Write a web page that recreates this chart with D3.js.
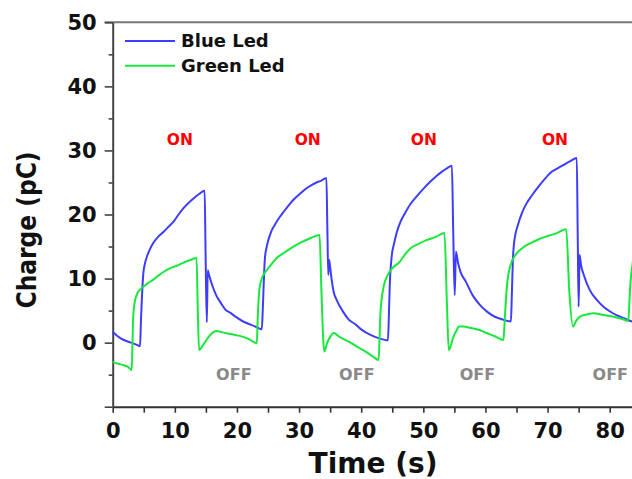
<!DOCTYPE html>
<html>
<head>
<meta charset="utf-8">
<script src="https://cdn.jsdelivr.net/npm/d3@7"></script>
<style>
  html, body { margin: 0; padding: 0; background: #fff; }
  svg { display: block; font-family: 'DejaVu Sans', Verdana, sans-serif; }
</style>
</head>
<body>
<svg id="chart" width="632" height="479"></svg>
<script>
// ── Data ──────────────────────────────────────────────────────────────────
const blueLed = [
  [0, 1.7], [0.8, 1.0], [1.7, 0.45], [2.8, 0.05], [3.9, -0.35], [4.4, -0.55],
  [4.55, 3.5], [4.7, 7.0], [4.93, 10.8], [5.2, 12.4], [5.5, 13.4], [6.0, 14.6], [6.5, 15.5],
  [7.3, 16.5], [8.2, 17.3], [9.0, 18.1], [9.8, 18.9], [10.6, 20.0], [11.4, 21.0], [12.2, 21.8],
  [13.0, 22.5], [13.9, 23.2], [14.8, 23.7],
  [14.95, 14.0], [15.15, 3.2], [15.3, 11.3], [15.5, 10.6], [15.9, 9.3], [16.7, 7.3], [17.4, 6.2],
  [18.1, 5.2], [19.0, 4.6], [19.7, 4.1], [21.0, 3.3], [22.2, 2.8], [23.2, 2.4], [24.0, 2.1],
  [24.15, 5.0], [24.3, 9.0], [24.5, 13.2], [24.8, 15.0], [25.05, 16.0], [25.5, 17.3], [26.1, 18.4],
  [26.8, 19.5], [27.5, 20.4], [28.3, 21.4], [29.1, 22.3], [30.1, 23.2], [31.2, 24.1], [32.0, 24.6],
  [32.8, 25.0], [33.6, 25.3], [34.4, 25.7],
  [34.55, 18.0], [34.7, 10.6], [34.85, 12.9], [35.0, 11.8], [35.25, 9.8], [35.6, 7.8], [36.06, 6.65],
  [37.1, 4.8], [38.0, 3.6], [39.0, 2.9], [40.1, 2.0], [41.5, 1.2], [42.8, 0.7], [44.3, 0.35],
  [44.45, 4.0], [44.6, 9.0], [44.9, 13.4], [45.3, 15.5], [45.7, 17.1], [46.3, 18.8], [47.05, 20.2],
  [47.9, 21.6], [48.9, 22.8], [50.0, 24.0], [51.1, 25.1], [52.0, 25.9], [53.0, 26.7], [53.8, 27.2],
  [54.6, 27.6],
  [54.8, 18.0], [55.05, 7.4], [55.25, 14.2], [55.6, 12.4], [56.0, 11.0], [56.8, 9.6], [58.0, 7.3],
  [59.1, 5.9], [60.3, 4.8], [61.6, 4.0], [62.8, 3.6], [64.1, 3.3],
  [64.25, 7.5], [64.4, 12.5], [64.6, 15.5], [65.3, 18.6], [65.9, 20.3], [66.6, 21.7], [67.5, 23.0],
  [68.5, 24.3], [69.6, 25.6], [70.7, 26.7], [71.6, 27.2], [72.5, 27.7], [73.6, 28.3], [74.7, 28.8],
  [74.85, 17.0], [75.0, 5.6], [75.15, 13.7], [75.4, 12.0], [75.75, 10.8], [76.8, 8.2], [77.9, 6.7],
  [79.0, 5.6], [80.0, 4.9], [81.1, 4.3], [82.3, 3.8], [83.6, 3.3], [84, 3.2]
];

const greenLed = [
  [0, -3.0], [0.9, -3.3], [1.7, -3.5], [2.5, -3.8], [3.06, -4.3],
  [3.2, 0.5], [3.3, 4.0], [3.6, 6.6], [4.1, 7.9], [4.9, 8.7], [5.7, 9.3], [6.5, 9.8], [7.4, 10.5],
  [8.3, 11.1], [9.2, 11.6], [10.3, 12.0], [11.4, 12.5], [12.5, 12.9], [13.5, 13.2],
  [13.7, 5.0], [13.9, -1.15], [14.6, -0.3], [15.2, 0.6], [15.7, 1.2], [16.7, 1.8], [17.7, 1.6],
  [18.7, 1.4], [19.7, 1.2], [21.0, 0.9], [22.0, 0.5], [22.6, 0.15], [23.2, -0.1],
  [23.35, 4.0], [23.6, 8.2], [24.0, 10.0], [24.8, 11.3], [25.6, 12.3], [26.4, 13.2], [27.7, 14.1],
  [29.1, 15.0], [30.4, 15.7], [31.8, 16.3], [33.3, 16.8],
  [33.6, 8.0], [34.06, -1.4], [34.5, -0.1], [35.0, 0.9], [35.6, 1.5], [36.5, 0.9], [37.5, 0.4],
  [38.5, -0.1], [39.6, -0.8], [40.7, -1.4], [41.8, -2.1], [42.8, -2.7],
  [42.95, 0.5], [43.1, 4.6], [43.6, 8.7], [44.4, 10.8], [45.2, 11.8], [46.2, 12.6], [47.0, 13.7],
  [47.9, 14.7], [49.2, 15.4], [50.5, 16.0], [52.0, 16.5], [53.4, 17.1],
  [53.8, 6.0], [54.1, -1.2], [54.8, 0.8], [55.4, 2.0], [55.7, 2.5], [56.4, 2.5], [57.6, 2.3],
  [58.9, 2.0], [60.2, 1.5], [61.5, 1.0], [62.9, 0.4],
  [63.1, 3.5], [63.4, 8.2], [63.95, 11.85], [65.0, 13.9], [66.0, 14.8], [67.2, 15.5], [68.5, 16.1],
  [69.9, 16.6], [71.5, 17.1], [73.0, 17.7],
  [73.5, 8.0], [74.1, 2.5], [74.6, 3.4], [75.2, 4.05], [76.3, 4.4], [77.4, 4.6], [79.0, 4.3],
  [80.6, 4.05], [82.0, 3.7], [83.0, 3.4],
  [83.2, 7.0], [83.4, 10.0], [83.7, 12.4], [84, 14.0]
];

const seriesNames = ['Blue Led', 'Green Led'];
const seriesColors = ['#3d3dff', '#18e83c'];
const xTickLabels = [0, 10, 20, 30, 40, 50, 60, 70, 80];
const yTickLabels = [0, 10, 20, 30, 40, 50];
const onLabelX = [10.8, 31.4, 50.1, 71.2];
const offLabelX = [19.5, 39.3, 58.7, 80.1];

(function () {
  'use strict';

  const svg = d3.select('#chart');
  const left = 112.7, top = 22.3, bottom = 406.7;

  const x = d3.scaleLinear().domain([0, 84]).range([left, left + 84 * 6.2125]);
  const y = d3.scaleLinear().domain([-10, 50]).range([bottom, top]);

  // ── Top frame line ────────────────────────────────────────────────────────
  svg.append('line')
    .attr('x1', left - 8).attr('x2', 632)
    .attr('y1', y(50)).attr('y2', y(50))
    .attr('stroke', '#777').attr('stroke-width', 2);

  // ── Axes ──────────────────────────────────────────────────────────────────
  const xAxis = svg.append('g')
    .attr('transform', `translate(0,${bottom})`)
    .call(d3.axisBottom(x)
      .tickValues(d3.range(0, 85, 5))
      .tickFormat(d => xTickLabels.includes(d) ? d : '')
      .tickSize(6).tickSizeOuter(0).tickPadding(10));
  xAxis.select('.domain').attr('stroke', '#333').attr('stroke-width', 2);
  xAxis.selectAll('.tick line').attr('stroke', '#333').attr('stroke-width', 1.6);

  const yAxis = svg.append('g')
    .attr('transform', `translate(${left},0)`)
    .call(d3.axisLeft(y)
      .tickValues(d3.range(-10, 51, 5))
      .tickFormat(d => yTickLabels.includes(d) ? d : '')
      .tickSize(8).tickSizeOuter(0).tickPadding(8));
  yAxis.select('.domain').attr('stroke', '#444').attr('stroke-width', 2);
  yAxis.selectAll('.tick line')
    .attr('stroke', '#444').attr('stroke-width', 1.6)
    .attr('x2', d => d % 10 === 0 ? -8 : -4);

  svg.selectAll('.tick text')
    .attr('font-family', "'DejaVu Sans', Verdana, sans-serif")
    .attr('font-size', 21).attr('font-weight', 'bold').attr('fill', '#111');

  // axis titles
  svg.append('text')
    .attr('x', 373).attr('y', 473)
    .attr('text-anchor', 'middle')
    .attr('font-size', 28).attr('font-weight', 'bold').attr('fill', '#111')
    .text('Time (s)');

  svg.append('text')
    .attr('transform', 'translate(36,230) rotate(-90)')
    .attr('text-anchor', 'middle')
    .attr('font-size', 27).attr('font-weight', 'bold').attr('fill', '#111')
    .attr('textLength', 157).attr('lengthAdjust', 'spacingAndGlyphs')
    .text('Charge (pC)');

  // ── Lines ─────────────────────────────────────────────────────────────────
  const line = d3.line()
    .x(d => x(d[0]))
    .y(d => y(d[1]))
    .curve(d3.curveMonotoneX);
  [blueLed, greenLed].forEach((s, i) => {
    svg.append('path')
      .datum(s)
      .attr('d', line)
      .attr('fill', 'none')
      .attr('stroke', seriesColors[i])
      .attr('stroke-width', 2)
      .attr('stroke-linejoin', 'round');
  });

  // ── ON / OFF labels ───────────────────────────────────────────────────────
  svg.selectAll('.on-label')
    .data(onLabelX)
    .enter().append('text')
    .attr('class', 'on-label')
    .attr('x', d => x(d)).attr('y', y(30.8))
    .attr('text-anchor', 'middle')
    .attr('font-size', 15.5).attr('font-weight', 'bold').attr('fill', '#ff0000')
    .text('ON');

  svg.selectAll('.off-label')
    .data(offLabelX)
    .enter().append('text')
    .attr('class', 'off-label')
    .attr('x', d => x(d)).attr('y', y(-5.9))
    .attr('text-anchor', 'middle')
    .attr('font-size', 16).attr('font-weight', 'bold').attr('fill', '#8a8a8a')
    .text('OFF');

  // ── Legend ────────────────────────────────────────────────────────────────
  const legend = svg.append('g');
  seriesNames.forEach((name, i) => {
    const ly = 41 + i * 24.7;
    legend.append('line')
      .attr('x1', 125).attr('x2', 175)
      .attr('y1', ly).attr('y2', ly)
      .attr('stroke', seriesColors[i]).attr('stroke-width', 2);
    legend.append('text')
      .attr('x', 181).attr('y', ly + 6)
      .attr('font-size', 18).attr('font-weight', 'bold').attr('fill', '#111')
      .text(name);
  });
})();
</script>
</body>
</html>
